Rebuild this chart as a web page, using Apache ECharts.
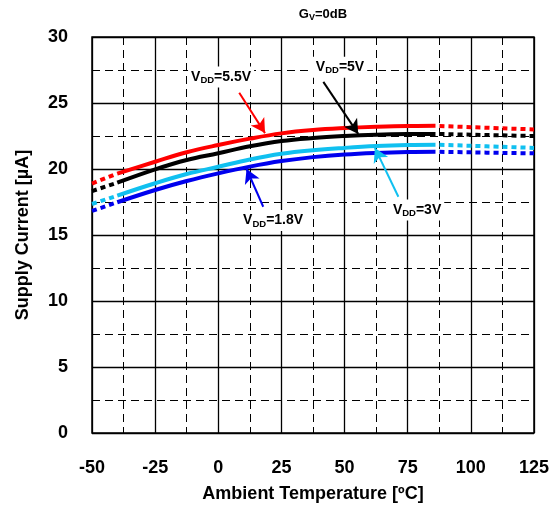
<!DOCTYPE html>
<html>
<head>
<meta charset="utf-8">
<script src="https://cdn.jsdelivr.net/npm/echarts@6/dist/echarts.min.js"></script>
<style>
  html, body { margin: 0; padding: 0; background: #fff; }
  #chart { width: 556px; height: 512px; }
</style>
</head>
<body>
<div id="chart"></div>
<script>
// Ambient temperature sample points [°C]
const temps = [-50, -40, -25, -12.5, 0, 12.5, 25, 37.5, 50, 62.5, 75, 86, 100, 112.5, 125];
// Supply current [µA] per supply voltage
const vdd55 = [18.9, 19.65, 20.55, 21.27, 21.82, 22.3, 22.7, 22.95, 23.1, 23.2, 23.26, 23.27, 23.17, 23.08, 23.0];
const vdd5  = [18.33, 18.96, 19.97, 20.68, 21.19, 21.72, 22.12, 22.35, 22.5, 22.6, 22.65, 22.66, 22.6, 22.55, 22.5];
const vdd3  = [17.35, 17.98, 18.92, 19.62, 20.17, 20.72, 21.15, 21.42, 21.6, 21.74, 21.82, 21.84, 21.76, 21.68, 21.6];
const vdd18 = [16.82, 17.48, 18.41, 19.09, 19.67, 20.18, 20.6, 20.9, 21.1, 21.22, 21.29, 21.31, 21.26, 21.22, 21.19];
// Guaranteed (solid) temperature range; outside it the curves are dotted
const solidFrom = -40;
const solidTo = 86;
// Tick labels
const xTicks = [-50, -25, 0, 25, 50, 75, 100, 125];
const yTicks = [0, 5, 10, 15, 20, 25, 30];

// Curve callouts: label text, label anchor [°C, µA], arrow start and tip [°C, µA]
const callouts = [
  { v: '5.5V', color: '#ff0000', text: [1.1, 26.97], from: [8.3, 25.78], to: [18.5, 22.72] },
  { v: '5V',   color: '#000000', text: [48.2, 27.7], from: [41.6, 26.6], to: [55.4, 22.66] },
  { v: '1.8V', color: '#0000ee', text: [21.7, 16.1], from: [17.8, 17.14], to: [11.2, 20.0] },
  { v: '3V',   color: '#10c0f0', text: [78.7, 16.9], from: [71.3, 17.9], to: [62.0, 21.6] }
];

const curves = [
  { vals: vdd18, color: '#0000ee' },
  { vals: vdd3,  color: '#10c0f0' },
  { vals: vdd5,  color: '#000000' },
  { vals: vdd55, color: '#ff0000' }
];

const FONT = 'Liberation Sans, Arial, sans-serif';

function pick(vals, lo, hi) {
  return temps.map((t, i) => [t, vals[i]]).filter(p => p[0] >= lo && p[0] <= hi);
}

const series = [];
curves.forEach(c => {
  series.push({
    type: 'line', data: pick(c.vals, -50, solidFrom), symbol: 'none', z: 3,
    lineStyle: { color: c.color, width: 4, type: [5, 4] }, silent: true
  });
  series.push({
    type: 'line', data: pick(c.vals, solidTo, 125), symbol: 'none', z: 3, smooth: 0.3,
    lineStyle: { color: c.color, width: 4, type: [5, 4], dashOffset: -4 }, silent: true
  });
  series.push({
    type: 'line', data: pick(c.vals, solidFrom, solidTo), symbol: 'none', z: 4, smooth: 0.4,
    lineStyle: { color: c.color, width: 4 }, silent: true
  });
});

// Arrows pointing from each callout to its curve
series.push({
  type: 'line', data: [], silent: true, z: 5,
  markLine: {
    silent: true, animation: false,
    symbol: ['none', 'arrow'], symbolSize: [12, 14],
    label: { show: false },
    data: callouts.map(c => [
      { coord: c.from, lineStyle: { color: c.color, width: 2, type: 'solid' }, itemStyle: { color: c.color } },
      { coord: c.to }
    ])
  }
});

const chart = echarts.init(document.getElementById('chart'), null, { renderer: 'canvas' });

const axisLabelStyle = { color: '#000', fontFamily: FONT, fontWeight: 'bold', fontSize: 18 };

chart.setOption({
  animation: false,
  backgroundColor: '#fff',
  title: {
    text: '{b|G}{s|V}{b|=0dB}',
    left: 318, top: 2, textAlign: 'center',
    textStyle: {
      rich: {
        b: { fontFamily: FONT, fontWeight: 'bold', fontSize: 13, color: '#000' },
        s: { fontFamily: FONT, fontWeight: 'bold', fontSize: 9, color: '#000', padding: [6, 0, 0, 0] }
      }
    }
  },
  grid: {
    left: 92, right: 22, top: 37, bottom: 79,
    show: true, borderColor: '#000', borderWidth: 1.5, backgroundColor: '#fff'
  },
  xAxis: {
    type: 'value', min: -50, max: 125, interval: 25,
    name: 'Ambient Temperature [ºC]', nameLocation: 'middle', nameGap: 52,
    nameTextStyle: { color: '#000', fontFamily: FONT, fontWeight: 'bold', fontSize: 18 },
    axisLine: { show: false },
    axisTick: { show: false },
    minorTick: { show: false, splitNumber: 2 },
    axisLabel: Object.assign({ margin: 26, formatter: v => xTicks.includes(v) ? String(v) : '' }, axisLabelStyle),
    splitLine: { show: true, lineStyle: { color: '#000', width: 1.3 } },
    minorSplitLine: { show: true, lineStyle: { color: '#000', width: 1, type: [8, 5] } }
  },
  yAxis: {
    type: 'value', min: 0, max: 30, interval: 5,
    name: 'Supply Current [µA]', nameLocation: 'middle', nameGap: 60,
    nameTextStyle: { color: '#000', fontFamily: FONT, fontWeight: 'bold', fontSize: 18 },
    axisLine: { show: false },
    axisTick: { show: false },
    minorTick: { show: false, splitNumber: 2 },
    axisLabel: Object.assign({ margin: 24, formatter: v => yTicks.includes(v) ? String(v) : '' }, axisLabelStyle),
    splitLine: { show: true, lineStyle: { color: '#000', width: 1.3 } },
    minorSplitLine: { show: true, lineStyle: { color: '#000', width: 1, type: [8, 5] } }
  },
  series: series
});

// Callout labels, placed in data coordinates
const graphics = callouts.map(c => {
  const p = chart.convertToPixel({ gridIndex: 0 }, c.text);
  return {
    type: 'text', x: p[0], y: p[1], z: 10,
    style: {
      text: '{b|V}{s|DD}{b|=' + c.v + '}',
      align: 'center', verticalAlign: 'middle',
      backgroundColor: '#fff', padding: [2, 3, 2, 3],
      rich: {
        b: { fontFamily: FONT, fontWeight: 'bold', fontSize: 14, fill: '#000', color: '#000' },
        s: { fontFamily: FONT, fontWeight: 'bold', fontSize: 9.5, fill: '#000', color: '#000', padding: [7, 0, 0, 0] }
      }
    }
  };
});
chart.setOption({ graphic: graphics });
</script>
</body>
</html>
